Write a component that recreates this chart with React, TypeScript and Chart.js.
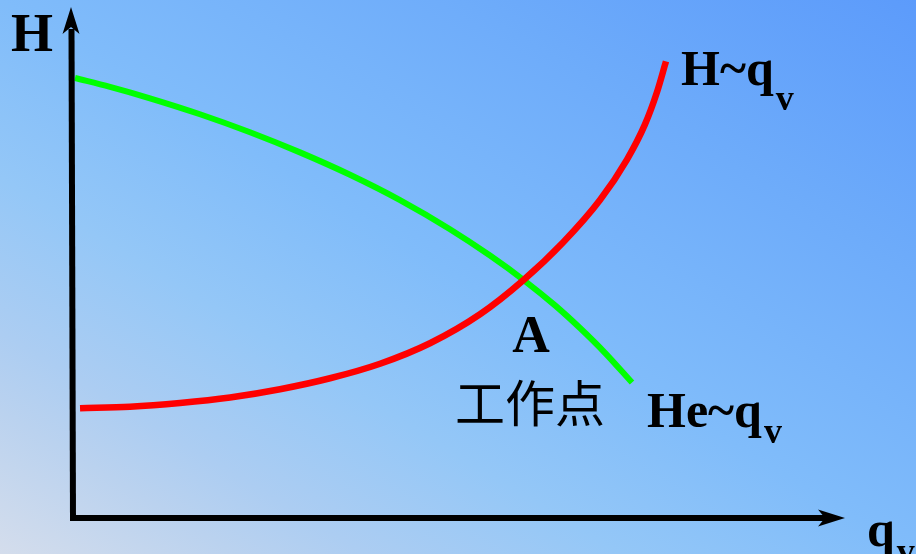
import React, { useEffect, useRef } from "react";
import { Chart, registerables } from "chart.js";

Chart.register(...registerables);

// Pipeline characteristic He~qv (green) and pump curve H~qv (red), in axis units (0..100)
const heCurveQ = [0.26, 4.79, 9.97, 16.45, 22.93, 29.4, 35.88, 42.36, 48.83, 54.02, 58.55, 62.44, 65.67, 68.91, 72.41];
const heCurveH = [86.27, 84.53, 82.3, 79.17, 75.64, 71.69, 67.3, 62.33, 56.62, 51.46, 46.47, 41.69, 37.25, 32.39, 26.55];

const hCurveQ = [0.91, 7.38, 13.86, 20.34, 26.81, 33.29, 39.77, 46.24, 52.72, 58.29, 63.47, 68.26, 71.76, 74.09, 75.65, 76.81];
const hCurveH = [21.52, 21.81, 22.55, 23.63, 25.25, 27.4, 30.25, 34.27, 39.95, 46.57, 54.02, 62.35, 70.29, 77.18, 83.53, 89.53];

const W = 916;
const H = 554;

const toPoints = (xs: number[], ys: number[]) => xs.map((x, i) => ({ x, y: ys[i] }));

const bgPlugin = {
  id: "bg",
  beforeDraw(chart: any) {
    const ctx = chart.ctx as CanvasRenderingContext2D;
    ctx.save();
    // diagonal gradient: bottom-left corner -> top-right corner, isolines parallel to the other diagonal
    const norm = Math.sqrt(W * W + H * H);
    const ux = H / norm;
    const uy = -W / norm;
    const L = (W * H) / norm;
    const cx = W / 2;
    const cy = H / 2;
    const g = ctx.createLinearGradient(cx - L * ux, cy - L * uy, cx + L * ux, cy + L * uy);
    g.addColorStop(0, "rgb(212,221,236)");
    g.addColorStop(0.13, "rgb(186,210,239)");
    g.addColorStop(0.2, "rgb(172,205,242)");
    g.addColorStop(0.34, "rgb(148,199,247)");
    g.addColorStop(0.5, "rgb(128,188,250)");
    g.addColorStop(0.75, "rgb(110,172,250)");
    g.addColorStop(1, "rgb(92,155,251)");
    ctx.fillStyle = g;
    ctx.fillRect(0, 0, W, H);
    ctx.restore();
  },
};

function subText(
  ctx: CanvasRenderingContext2D,
  main: string,
  sub: string,
  x: number,
  y: number,
  size: number,
  subSize: number,
  subDrop: number
) {
  ctx.font = `bold ${size}px "Liberation Serif", "Times New Roman", serif`;
  ctx.fillText(main, x, y);
  const w = ctx.measureText(main).width;
  ctx.font = `bold ${subSize}px "Liberation Serif", "Times New Roman", serif`;
  ctx.fillText(sub, x + w + 2, y + subDrop);
}

const overlayPlugin = {
  id: "overlay",
  afterDatasetsDraw(chart: any) {
    const ctx = chart.ctx as CanvasRenderingContext2D;
    const xs = chart.scales.x;
    const ys = chart.scales.y;
    const ox = xs.getPixelForValue(0);
    const oy = ys.getPixelForValue(0);
    const top = chart.chartArea.top - 1;
    const right = chart.chartArea.right;
    ctx.save();
    ctx.strokeStyle = "#000";
    ctx.fillStyle = "#000";
    ctx.lineWidth = 6;
    ctx.lineCap = "butt";
    // y axis
    ctx.beginPath();
    ctx.moveTo(ox, oy + 3);
    ctx.lineTo(ox - 1.5, top + 22);
    ctx.stroke();
    // x axis
    ctx.beginPath();
    ctx.moveTo(ox - 3, oy);
    ctx.lineTo(right - 18, oy);
    ctx.stroke();
    // y arrow head
    const tx = ox - 2;
    ctx.beginPath();
    ctx.moveTo(tx, top);
    ctx.lineTo(tx + 8.5, top + 27);
    ctx.lineTo(tx, top + 20);
    ctx.lineTo(tx - 8.5, top + 27);
    ctx.closePath();
    ctx.fill();
    // x arrow head
    ctx.beginPath();
    ctx.moveTo(right, oy);
    ctx.lineTo(right - 27, oy - 8.5);
    ctx.lineTo(right - 20, oy);
    ctx.lineTo(right - 27, oy + 8.5);
    ctx.closePath();
    ctx.fill();

    // labels
    ctx.textAlign = "left";
    ctx.textBaseline = "alphabetic";
    ctx.font = `bold 54px "Liberation Serif", "Times New Roman", serif`;
    ctx.fillText("H", 11, 51);
    subText(ctx, "H~q", "v", 681, 85, 50, 36, 25);
    subText(ctx, "He~q", "v", 647, 427, 50, 36, 16);
    subText(ctx, "q", "v", 867, 546, 50, 36, 17);
    ctx.font = `bold 52px "Liberation Serif", "Times New Roman", serif`;
    ctx.textAlign = "center";
    ctx.fillText("A", 531, 352);
    ctx.font = `50px "Noto Sans CJK SC", sans-serif`;
    ctx.textBaseline = "middle";
    ctx.fillText("工作点", 530, 403);
    ctx.restore();
  },
};

export default function App() {
  const ref = useRef<HTMLCanvasElement | null>(null);

  useEffect(() => {
    document.body.style.margin = "0";
    const canvas = ref.current;
    if (!canvas) return;
    const chart = new Chart(canvas, {
      type: "scatter",
      data: {
        datasets: [
          {
            label: "H~qv",
            data: toPoints(hCurveQ, hCurveH),
            showLine: true,
            borderColor: "#ff0000",
            borderWidth: 6.5,
            borderCapStyle: "butt",
            borderJoinStyle: "round",
            pointRadius: 0,
            cubicInterpolationMode: "monotone",
            clip: false,
          } as any,
          {
            label: "He~qv",
            data: toPoints(heCurveQ, heCurveH),
            showLine: true,
            borderColor: "#00ff00",
            borderWidth: 6,
            borderCapStyle: "butt",
            borderJoinStyle: "round",
            pointRadius: 0,
            cubicInterpolationMode: "monotone",
            clip: false,
          } as any,
        ],
      },
      options: {
        animation: false,
        responsive: false,
        devicePixelRatio: 1,
        layout: { padding: { left: 73, right: 71, top: 8, bottom: 36 } },
        plugins: { legend: { display: false }, tooltip: { enabled: false } },
        events: [],
        scales: {
          x: { type: "linear", min: 0, max: 100, display: false },
          y: { type: "linear", min: 0, max: 100, display: false },
        },
      },
      plugins: [bgPlugin, overlayPlugin],
    });
    return () => chart.destroy();
  }, []);

  return (
    <div style={{ width: W, height: H }}>
      <canvas ref={ref} width={W} height={H} style={{ display: "block" }} />
    </div>
  );
}
